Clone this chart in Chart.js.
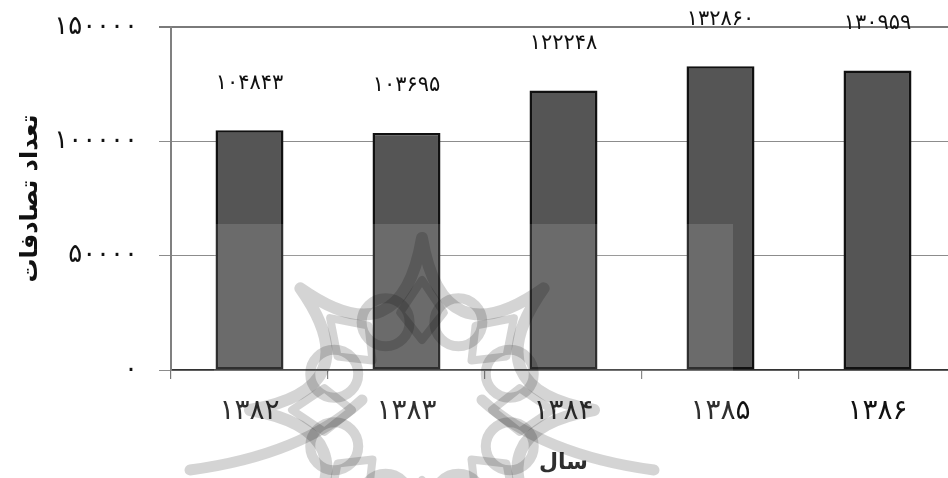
<!DOCTYPE html>
<html lang="fa">
<head>
<meta charset="utf-8">
<title>تعداد تصادفات</title>
<script src="https://cdn.jsdelivr.net/npm/chart.js@4.4.1/dist/chart.umd.min.js"></script>
<style>
  html, body { margin: 0; padding: 0; background: #fff; overflow: hidden; }
  #wrap { width: 960px; height: 478px; }
</style>
</head>
<body>
<div id="wrap"><canvas id="c" width="960" height="478" style="width:960px;height:478px"></canvas></div>
<script>
// Years (Solar Hijri) and number of accidents per year
const years = [1382, 1383, 1384, 1385, 1386];
const accidents = [104843, 103695, 122248, 132860, 130959];
const yTicks = [0, 50000, 100000, 150000];
const yTitle = 'تعداد تصادفات';
const xTitle = 'سال';

// Persian (Extended Arabic-Indic) digits
const faDigits = '۰۱۲۳۴۵۶۷۸۹';
const fa = n => String(n).replace(/\d/g, d => faDigits[d]);

const FONT = "'DejaVu Sans', sans-serif";

// Value labels above each bar, taken from the bar's own data
const valueLabels = {
  id: 'valueLabels',
  afterDatasetsDraw(chart) {
    const ctx = chart.ctx;
    const meta = chart.getDatasetMeta(0);
    ctx.save();
    ctx.font = '21px ' + FONT;
    ctx.fillStyle = '#111';
    ctx.textAlign = 'center';
    ctx.textBaseline = 'middle';
    meta.data.forEach((bar, i) => {
      ctx.fillText(fa(chart.data.datasets[0].data[i]), bar.x, bar.y - 47);
    });
    ctx.restore();
  }
};

// Pale rosette ornament and light panel in the lower middle of the figure
const ornament = {
  id: 'ornament',
  afterDraw(chart) {
    const ctx = chart.ctx;
    ctx.save();
    ctx.fillStyle = 'rgba(255,255,255,0.13)';
    ctx.fillRect(214, 224, 519, 254);

    ctx.globalCompositeOperation = 'multiply';
    ctx.strokeStyle = 'rgb(212,212,212)';
    ctx.lineCap = 'round';
    ctx.lineJoin = 'round';
    const cx = 422, cy = 410, R = 172, rc = 55;
    const pt = (r, a) => [cx + r * Math.sin(a), cy - r * Math.cos(a)];

    // eight-pointed star with concave sides
    ctx.lineWidth = 12;
    ctx.beginPath();
    for (let k = 0; k < 8; k++) {
      const a0 = k * Math.PI / 4, a1 = (k + 1) * Math.PI / 4, am = (a0 + a1) / 2;
      const p0 = pt(R, a0), p1 = pt(R, a1), c = pt(rc, am);
      if (k === 0) ctx.moveTo(p0[0], p0[1]);
      ctx.quadraticCurveTo(c[0], c[1], p1[0], p1[1]);
    }
    ctx.closePath();
    ctx.stroke();

    // outer sweeping spikes toward the lower corners
    ctx.lineWidth = 11;
    [[-1], [1]].forEach(([s]) => {
      ctx.beginPath();
      ctx.moveTo(cx + s * 232, 470);
      ctx.quadraticCurveTo(cx + s * 120, 455, cx + s * 60, 400);
      ctx.stroke();
    });

    // ring of small circles between the points
    ctx.lineWidth = 10;
    for (let k = 0; k < 8; k++) {
      const p = pt(95, Math.PI / 8 + k * Math.PI / 4);
      ctx.beginPath();
      ctx.arc(p[0], p[1], 24, 0, Math.PI * 2);
      ctx.stroke();
    }

    // small diamonds toward each point
    ctx.lineWidth = 8;
    for (let k = 0; k < 8; k++) {
      const a = k * Math.PI / 4;
      const o = pt(130, a), i = pt(70, a), l = pt(100, a - 0.22), r = pt(100, a + 0.22);
      ctx.beginPath();
      ctx.moveTo(o[0], o[1]);
      ctx.lineTo(l[0], l[1]);
      ctx.lineTo(i[0], i[1]);
      ctx.lineTo(r[0], r[1]);
      ctx.closePath();
      ctx.stroke();
    }
    ctx.restore();
  }
};

// keep the plot box where the layout padding puts it
const noEdgePadding = scale => {
  scale.paddingTop = 0;
  scale.paddingBottom = 0;
  scale.paddingLeft = 0;
  scale.paddingRight = 0;
};

new Chart(document.getElementById('c'), {
  type: 'bar',
  data: {
    labels: years.map(fa),
    datasets: [{
      data: accidents,
      backgroundColor: '#555555',
      borderColor: '#111111',
      borderWidth: 2.5,
      borderSkipped: false,
      categoryPercentage: 1,
      barPercentage: 0.433
    }]
  },
  options: {
    responsive: false,
    animation: false,
    layout: { padding: { top: 27, right: 4, bottom: 0, left: 0 } },
    plugins: { legend: { display: false }, tooltip: { enabled: false } },
    scales: {
      x: {
        afterFit(scale) { scale.height = 108; noEdgePadding(scale); },
        grid: {
          drawOnChartArea: false,
          drawTicks: true,
          tickLength: 9,
          color: '#777',
          lineWidth: 1.2
        },
        border: { display: true, color: '#333', width: 1.5 },
        ticks: {
          padding: 16,
          color: '#111',
          font: { family: FONT, size: 28 }
        },
        title: {
          display: true,
          text: xTitle,
          color: '#111',
          font: { family: FONT, size: 22, weight: 'bold' },
          padding: { top: 0, bottom: 2 }
        }
      },
      y: {
        min: 0,
        max: 150000,
        afterFit(scale) { scale.width = 171; noEdgePadding(scale); },
        afterBuildTicks(scale) { scale.ticks = yTicks.map(v => ({ value: v })); },
        grid: {
          color: ctx => ctx.tick && ctx.tick.value === 150000 ? '#7a7a7a' : '#8c8c8c',
          lineWidth: ctx => ctx.tick && ctx.tick.value === 150000 ? 2 : 1,
          tickLength: 12
        },
        border: { display: true, color: '#808080', width: 2 },
        ticks: {
          padding: 21,
          color: '#111',
          font: { family: FONT, size: 26 },
          callback: v => fa(v)
        },
        title: {
          display: true,
          text: yTitle,
          color: '#111',
          font: { family: FONT, size: 24, weight: 'bold' },
          padding: { top: 16, bottom: 0 }
        }
      }
    }
  },
  plugins: [valueLabels, ornament]
});
</script>
</body>
</html>
